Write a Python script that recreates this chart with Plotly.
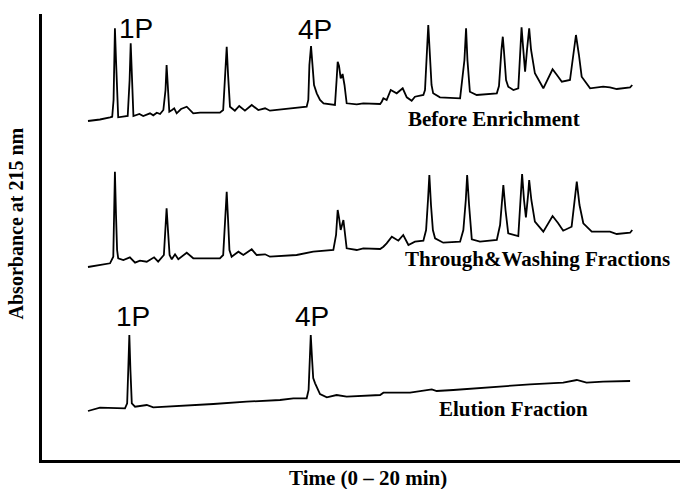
import plotly.graph_objects as go

# ---- data (time in min, absorbance in arbitrary units relative to each trace baseline) ----
before_t = [0.00, 0.44, 0.81, 0.89, 0.94, 0.96, 0.99, 1.03, 1.07, 1.11, 1.46, 1.53, 1.57, 1.61, 1.67,
            1.89, 2.03, 2.28, 2.40, 2.53, 2.65, 2.77, 2.85, 2.89, 2.94, 2.99, 3.09, 3.17, 3.26, 3.42,
            3.63, 3.87, 4.12, 4.85, 4.97, 5.05, 5.10, 5.15, 5.22, 5.40, 5.56, 5.77, 6.02, 6.26, 6.51,
            6.69, 7.43, 8.04, 8.10, 8.14, 8.20, 8.25, 8.31, 8.41, 8.53, 8.66, 9.08, 9.14, 9.18, 9.23,
            9.29, 9.36, 9.43, 9.51, 9.88, 10.12, 10.74, 10.80, 10.86, 10.98, 11.13, 11.35, 11.57, 11.72,
            11.90, 12.02, 12.33, 12.39, 12.44, 12.51, 12.57, 12.63, 12.69, 12.94, 13.68, 13.84, 13.90,
            13.95, 14.04, 14.29, 15.03, 15.11, 15.20, 15.25, 15.29, 15.37, 15.45, 15.64, 15.82, 15.90,
            15.94, 15.99, 16.07, 16.14, 16.22, 16.29, 16.43, 16.74, 16.91, 17.08, 17.24, 17.42, 17.72,
            17.83, 17.94, 18.05, 18.15, 18.46, 18.94, 19.19, 19.44, 19.93, 20.01]
before_a = [0, 1.5, 3.7, 4.3, 21, 51, 92.7, 61, 21, 3.7, 5, 41, 77.7, 41, 5,
            7, 5, 7.7, 5.7, 8.3, 7, 11, 31, 56, 31, 9.3, 11, 12.7, 7.7, 12,
            14.3, 7.7, 8.3, 8.3, 11, 46, 74.3, 46, 14.3, 10.3, 15, 10.3, 16, 11, 12.7,
            10.3, 12.7, 14.3, 21, 56, 75, 56, 36, 27.7, 21, 17.7, 16, 41, 59.3, 55,
            42.7, 47, 36, 17.7, 16.7, 17.7, 17, 19.3, 22.7, 21, 31, 27.7, 32.7, 23.7,
            20.3, 24.3, 26, 31, 66, 96, 66, 36, 27.7, 23.7, 22.7, 61, 92.7,
            61, 29.3, 26, 27.7, 35, 71, 84.3, 71, 41, 34.3, 31, 32.7, 76,
            93.7, 76, 49.3, 71, 92.7, 71, 47.7, 32.7, 43, 51.7, 46, 39.3, 41,
            61, 86, 66, 44.3, 32.7, 34.3, 33.7, 32, 33.7, 36]

wash_t = [0.00, 0.44, 0.81, 0.93, 0.96, 0.99, 1.03, 1.07, 1.11, 1.30, 1.54, 1.73, 1.91, 2.16, 2.43,
          2.58, 2.79, 2.85, 2.89, 2.94, 3.00, 3.08, 3.20, 3.32, 3.63, 3.87, 4.12, 4.85, 4.97, 5.05,
          5.10, 5.15, 5.20, 5.28, 5.53, 5.71, 6.02, 6.20, 6.51, 6.69, 7.67, 8.28, 9.02, 9.12, 9.18,
          9.23, 9.29, 9.39, 9.45, 9.51, 9.88, 10.12, 10.74, 10.86, 10.98, 11.17, 11.41, 11.59, 11.78,
          12.02, 12.33, 12.43, 12.50, 12.55, 12.61, 12.68, 12.76, 13.06, 13.68, 13.80, 13.89, 13.94,
          14.01, 14.11, 14.41, 15.03, 15.15, 15.27, 15.35, 15.45, 15.82, 15.90, 15.96, 16.03, 16.10,
          16.18, 16.22, 16.30, 16.43, 16.74, 16.91, 17.08, 17.28, 17.47, 17.78, 17.89, 17.97, 18.07,
          18.21, 18.52, 19.19, 19.44, 19.93, 20.01]
wash_a = [0, 2, 3.7, 10.3, 52, 95.3, 52, 17, 8.7, 7, 9.7, 4.3, 6.3, 5.3, 9.7,
          5.3, 12, 37, 58.7, 37, 12, 7.7, 12.7, 7.7, 14.3, 8.7, 8.7, 8.7, 12, 47,
          75.3, 47, 17, 10.3, 15.3, 12, 17.7, 12, 12.7, 10.3, 12, 15.3, 17, 32, 57,
          49, 37, 47, 32, 18.7, 17, 18.7, 18, 20.3, 23.7, 30.3, 26.3, 32, 22,
          25.3, 26.3, 37, 67, 92, 62, 37, 28.7, 24.3, 25.3, 37, 67, 92,
          62, 27.7, 25.3, 27, 42, 82, 57, 33.7, 31, 67, 93, 67, 49.7,
          72, 87, 67, 45.3, 35.3, 43, 51, 44, 36.3, 40.3, 67, 85.3, 62,
          43.7, 35.3, 35.3, 33, 34.3, 37]

elution_t = [0.00, 0.44, 1.36, 1.44, 1.48, 1.52, 1.56, 1.61, 1.73, 2.16, 2.40, 3.38, 4.61, 5.83,
             7.06, 7.55, 8.04, 8.11, 8.15, 8.19, 8.24, 8.28, 8.35, 8.53, 8.78, 9.14, 9.51, 10.74,
             10.86, 11.84, 12.64, 12.82, 13.43, 15.27, 16.25, 17.47, 17.97, 18.33, 18.94, 19.93]
elution_a = [0, 3.3, 2.7, 7.7, 41, 76, 41, 7.7, 4.3, 6, 3.7, 5, 7, 9.3,
             11, 12.7, 12.7, 21, 51, 76, 51, 33, 27.7, 17, 13.7, 16, 14.3, 16,
             18.3, 18.3, 21.7, 20, 21, 25, 26.7, 28.3, 31, 28.3, 29.3, 30]

trace_names = ["Before Enrichment", "Through&Washing Fractions", "Elution Fraction"]
peak_labels = ["1P", "4P"]

# ---- layout constants ----
offsets = [339, 193, 49]
series = [(before_t, before_a), (wash_t, wash_a), (elution_t, elution_a)]

fig = go.Figure()
for (t, a), off, name in zip(series, offsets, trace_names):
    fig.add_trace(go.Scatter(x=t, y=[v + off for v in a], mode="lines", name=name,
                             line=dict(color="black", width=1.8), showlegend=False,
                             hoverinfo="skip"))

serif = "Liberation Serif, Times New Roman, serif"
sans = "Liberation Sans, Arial, sans-serif"

# trace labels
label_pos = [(14.92, 341.5), (16.53, 201), (15.63, 51)]
for name, (x, y) in zip(trace_names, label_pos):
    fig.add_annotation(x=x, y=y, text="<b>%s</b>" % name, showarrow=False,
                       font=dict(family=serif, size=21, color="black"),
                       xanchor="center", yanchor="middle")

# peak labels
peak_pos = [[(1.76, 432), (8.33, 431)], [(1.64, 144), (8.24, 144)]]
for row in peak_pos:
    for lab, (x, y) in zip(peak_labels, row):
        fig.add_annotation(x=x, y=y, text=lab, showarrow=False,
                           font=dict(family=sans, size=28, color="black"),
                           xanchor="center", yanchor="middle")

# axis titles
fig.add_annotation(xref="paper", yref="paper", x=-0.041, y=0.53,
                   text="<b>Absorbance at 215 nm</b>", textangle=-90, showarrow=False,
                   font=dict(family=serif, size=20, color="black"),
                   xanchor="center", yanchor="middle")
fig.add_annotation(xref="paper", yref="paper", x=0.511, y=-0.041,
                   text="<b>Time (0 \u2013 20 min)</b>", showarrow=False,
                   font=dict(family=serif, size=21, color="black"),
                   xanchor="center", yanchor="middle")

fig.update_layout(
    width=680, height=489,
    margin=dict(l=42, r=0, t=14, b=29),
    paper_bgcolor="white", plot_bgcolor="white",
    xaxis=dict(range=[-1.691, 21.765], showgrid=False, zeroline=False, showticklabels=False,
               ticks="", showline=True, linecolor="black", linewidth=3),
    yaxis=dict(range=[0, 446], showgrid=False, zeroline=False, showticklabels=False,
               ticks="", showline=True, linecolor="black", linewidth=3),
)

# remove the default page margin so the figure fills the window exactly
fig.write_html("out.html", config={"displayModeBar": False},
               post_script="document.body.style.margin='0';document.body.style.overflow='hidden';")
